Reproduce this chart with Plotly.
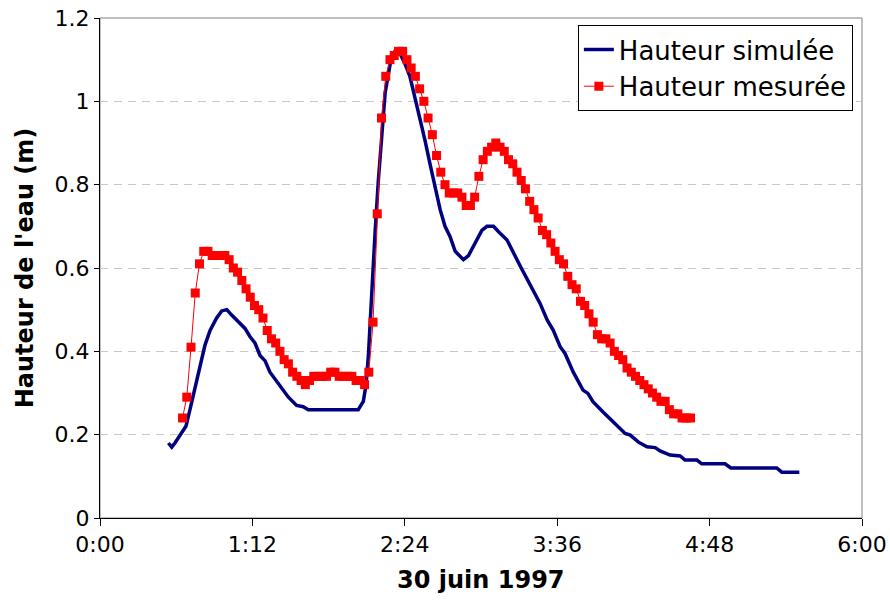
import plotly.graph_objects as go

# Simulated water height (time in minutes after 0:00, height in m)
sim_t = [32.3, 33.9, 35.4, 37.8, 40.6, 42.5, 44.9, 47.2, 49.6, 52.0, 55.1, 57.5, 59.9,
         62.2, 65.3, 68.5, 70.9, 73.2, 75.6, 78.0, 80.3, 83.1, 85.8, 89.0, 92.9, 96.0,
         98.4, 122.0, 124.4, 125.7, 126.8, 128.4, 130.0, 131.5, 133.1, 134.7, 137.1,
         139.9, 141.7, 144.1, 146.4, 148.8, 151.2, 153.6, 155.9, 158.3, 160.7, 163.0,
         165.4, 167.8, 171.7, 174.1, 177.2, 180.4, 182.8, 185.9, 188.3, 192.3, 198.7,
         205.0, 207.9, 211.3, 214.1, 217.4, 219.7, 223.6, 228.2, 230.5, 232.9, 237.9,
         242.6, 248.1, 250.5, 254.4, 258.4, 262.3, 264.6, 269.3, 274.1, 276.4, 282.0,
         284.3, 295.3, 298.0, 319.7, 322.1, 330.4]
sim_h = [0.18, 0.17, 0.18, 0.20, 0.22, 0.26, 0.315, 0.36, 0.415, 0.45, 0.48, 0.497, 0.50,
         0.487, 0.47, 0.455, 0.435, 0.42, 0.39, 0.377, 0.35, 0.33, 0.31, 0.29, 0.27, 0.267,
         0.26, 0.26, 0.28, 0.32, 0.39, 0.56, 0.69, 0.81, 0.93, 1.02, 1.09,
         1.127, 1.115, 1.09, 1.06, 1.01, 0.96, 0.905, 0.85, 0.795, 0.74, 0.70,
         0.675, 0.64, 0.62, 0.63, 0.66, 0.69, 0.70, 0.70, 0.687, 0.667, 0.603,
         0.54, 0.515, 0.475, 0.451, 0.411, 0.395, 0.35, 0.307, 0.299, 0.279, 0.253,
         0.231, 0.203, 0.199, 0.182, 0.171, 0.169, 0.161, 0.151, 0.149, 0.139, 0.139,
         0.13, 0.13, 0.12, 0.12, 0.11, 0.11]

# Measured water height
mes_t = [39, 41, 43, 45, 47, 49, 51, 53, 55, 57,
         59, 61, 63, 65, 67, 69, 71, 73, 75, 77,
         79, 81, 83, 85, 87, 89, 91, 93, 95, 97,
         99, 101, 103, 105, 107, 109, 111, 113, 115, 117,
         119, 121, 123, 125, 127, 129, 131, 133, 135, 137,
         139, 141, 143, 145, 147, 149, 151, 153, 155, 157,
         159, 161, 163, 165, 167, 169, 171, 173, 175, 177,
         179, 181, 183, 185, 187, 189, 191, 193, 195, 197,
         199, 201, 203, 205, 207, 209, 211, 213, 215, 217,
         219, 221, 223, 225, 227, 229, 231, 233, 235, 237,
         239, 241, 243, 245, 247, 249, 251, 253, 255, 257,
         259, 261, 263, 265, 267, 269, 271, 273, 275, 277,
         279]
mes_h = [0.24, 0.29, 0.41, 0.54, 0.61, 0.64, 0.64, 0.63, 0.63, 0.63,
         0.63, 0.62, 0.60, 0.59, 0.57, 0.55, 0.53, 0.51, 0.50, 0.48,
         0.45, 0.43, 0.42, 0.40, 0.38, 0.37, 0.35, 0.34, 0.33, 0.32,
         0.33, 0.34, 0.34, 0.34, 0.34, 0.35, 0.35, 0.34, 0.34, 0.34,
         0.34, 0.33, 0.33, 0.32, 0.35, 0.47, 0.73, 0.96, 1.06, 1.10,
         1.11, 1.12, 1.12, 1.10, 1.08, 1.06, 1.03, 1.00, 0.96, 0.92,
         0.87, 0.83, 0.80, 0.78, 0.78, 0.78, 0.77, 0.75, 0.75, 0.77,
         0.82, 0.86, 0.88, 0.89, 0.90, 0.89, 0.88, 0.86, 0.85, 0.83,
         0.81, 0.79, 0.76, 0.74, 0.72, 0.69, 0.68, 0.66, 0.64, 0.62,
         0.61, 0.58, 0.56, 0.55, 0.52, 0.51, 0.49, 0.47, 0.44, 0.43,
         0.43, 0.42, 0.40, 0.39, 0.38, 0.36, 0.35, 0.34, 0.33, 0.32,
         0.31, 0.30, 0.29, 0.28, 0.28, 0.26, 0.25, 0.25, 0.24, 0.24,
         0.24]

x_tickvals = [0, 72, 144, 216, 288, 360]
x_ticktext = ["0:00", "1:12", "2:24", "3:36", "4:48", "6:00"]
y_tickvals = [0, 0.2, 0.4, 0.6, 0.8, 1.0, 1.2]
y_ticktext = ["0", "0.2", "0.4", "0.6", "0.8", "1", "1.2"]

FONT = "DejaVu Sans, Verdana, sans-serif"

fig = go.Figure()
fig.add_trace(go.Scatter(x=sim_t, y=sim_h, mode="lines", name="Hauteur simulée",
                         line=dict(color="#000080", width=3.5)))
fig.add_trace(go.Scatter(x=mes_t, y=mes_h, mode="lines+markers", name="Hauteur mesurée",
                         line=dict(color="#FF0000", width=1),
                         marker=dict(symbol="square", size=9, color="#FF0000")))

fig.update_layout(
    width=890, height=603,
    margin=dict(l=100, r=28, t=18, b=85, autoexpand=False),
    paper_bgcolor="white", plot_bgcolor="white",
    font=dict(family=FONT, color="black", size=22),
    showlegend=True,
    legend=dict(x=0.988, y=0.986, xanchor="right", yanchor="top",
                bgcolor="white", bordercolor="black", borderwidth=1,
                font=dict(size=26, family=FONT), tracegroupgap=0,
                itemwidth=30),
    shapes=[dict(type="rect", xref="paper", yref="paper", x0=0, x1=1, y0=0, y1=1,
                 line=dict(color="#808080", width=1), layer="below")],
    annotations=[
        dict(text="<b>30 juin 1997</b>", xref="paper", yref="paper", x=0.5, y=-0.124,
             xanchor="center", yanchor="middle", showarrow=False,
             font=dict(size=24, family=FONT)),
        dict(text="<b>Hauteur de l'eau (m)</b>", xref="paper", yref="paper", x=-0.098, y=0.5,
             xanchor="center", yanchor="middle", showarrow=False, textangle=-90,
             font=dict(size=24, family=FONT)),
    ],
)
fig.update_xaxes(range=[0, 360], tickvals=x_tickvals, ticktext=x_ticktext,
                 showline=True, linecolor="black", linewidth=1, mirror=False,
                 ticks="outside", ticklen=7, tickcolor="black", automargin=False,
                 ticklabeloverflow="allow",
                 showgrid=False, zeroline=False, tickfont=dict(size=22))
fig.update_yaxes(range=[0, 1.2], tickvals=y_tickvals, ticktext=y_ticktext,
                 showline=True, linecolor="black", linewidth=1,
                 ticks="outside", ticklen=5, tickcolor="black", automargin=False,
                 ticklabeloverflow="allow",
                 showgrid=True, gridcolor="#c8c8c8", griddash="8px,6px", gridwidth=1,
                 zeroline=False, tickfont=dict(size=22))

# remove the default page margin so the 890x603 figure fills the window exactly
fig.write_html("out.html", config={"displayModeBar": False},
               post_script="document.body.style.margin='0';")
